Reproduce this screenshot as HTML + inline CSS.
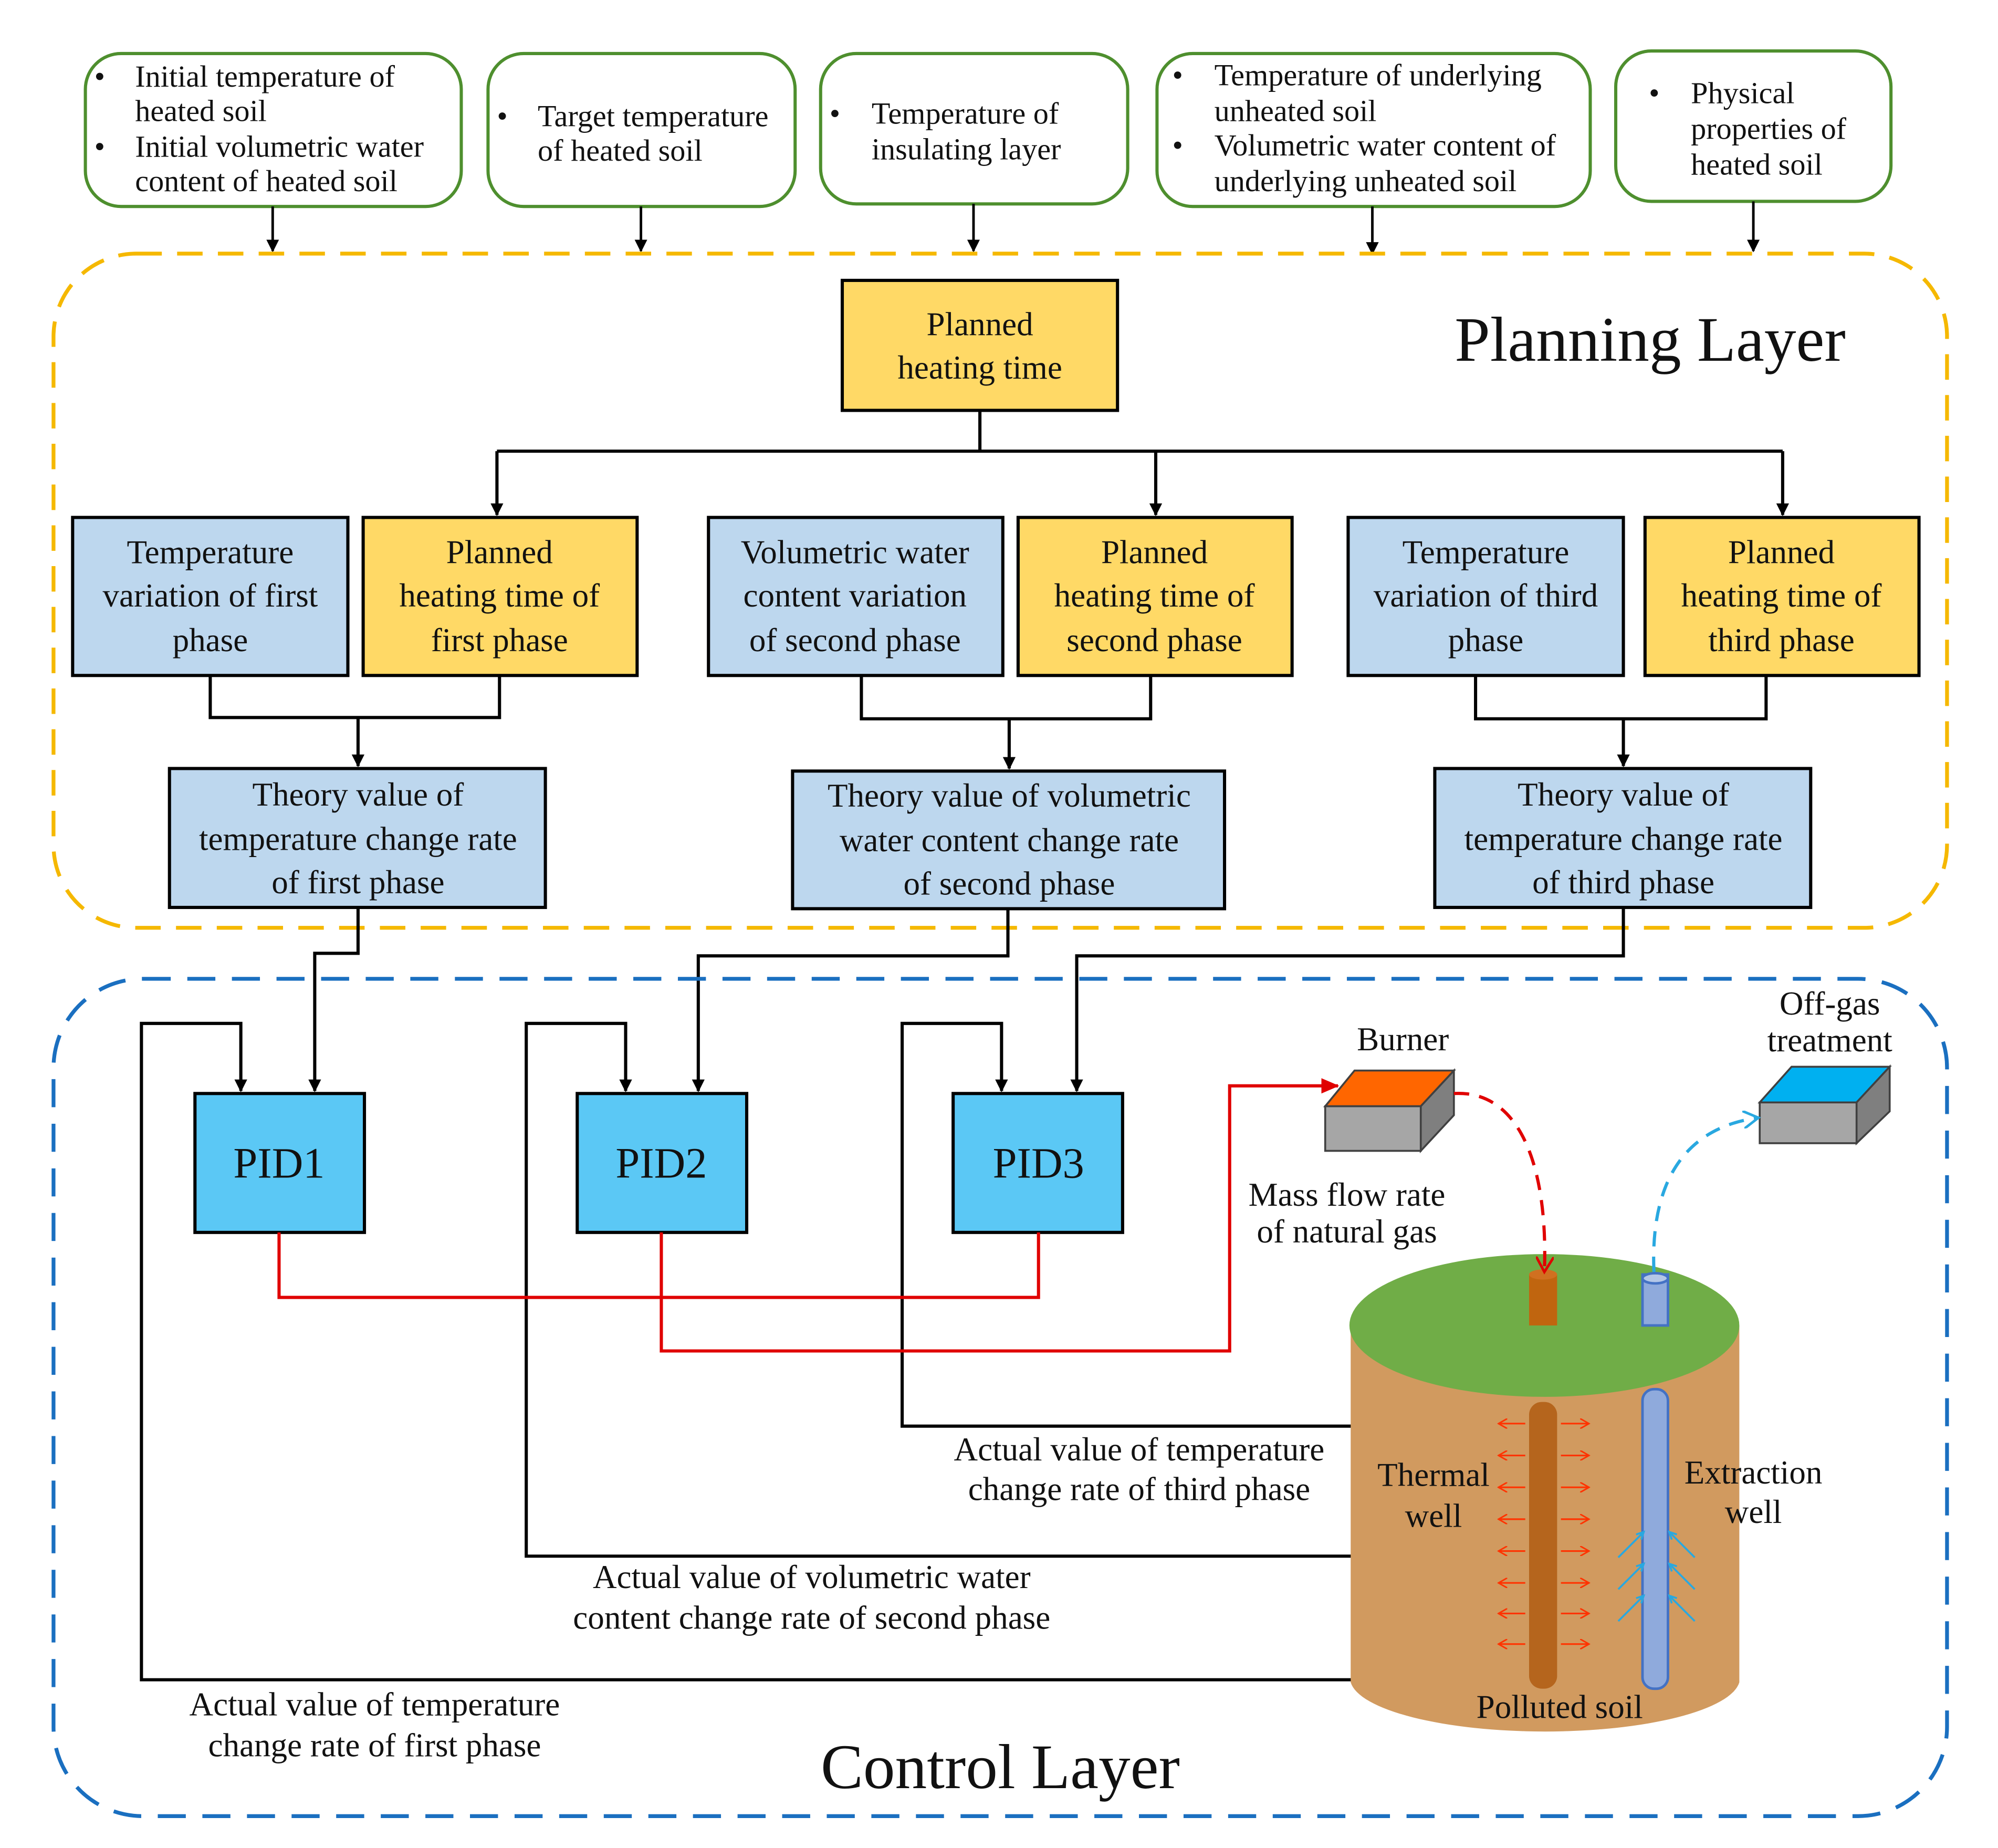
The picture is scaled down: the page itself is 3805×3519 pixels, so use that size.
<!DOCTYPE html>
<html><head><meta charset="utf-8"><style>
html,body{margin:0;padding:0;background:#fff;}
svg{display:block;}
text{font-family:"Liberation Serif",serif;fill:#111;}
</style></head><body>
<svg width="3805" height="3519" viewBox="0 0 1568 1450" preserveAspectRatio="none" xmlns="http://www.w3.org/2000/svg">
<defs>
<marker id="ab" markerWidth="10" markerHeight="10" refX="9" refY="5" orient="auto" markerUnits="userSpaceOnUse"><path d="M0,0 L10,5 L0,10 z" fill="#000"/></marker>
<marker id="ar" markerWidth="14" markerHeight="12" refX="13" refY="6" orient="auto" markerUnits="userSpaceOnUse"><path d="M0,0 L14,6 L0,12 z" fill="#e00000"/></marker>
<marker id="arr" markerWidth="14" markerHeight="14" refX="12" refY="7" orient="auto" markerUnits="userSpaceOnUse"><path d="M0,0 L12,7 L0,14" fill="none" stroke="#e00000" stroke-width="2"/></marker>
<marker id="arb" markerWidth="14" markerHeight="14" refX="12" refY="7" orient="auto" markerUnits="userSpaceOnUse"><path d="M0,0 L12,7 L0,14" fill="none" stroke="#29a8e0" stroke-width="2"/></marker>
<marker id="sr" markerWidth="8" markerHeight="8" refX="7" refY="4" orient="auto" markerUnits="userSpaceOnUse"><path d="M0,0 L7,4 L0,8" fill="none" stroke="#ff3300" stroke-width="1.2"/></marker>
</defs>

<g fill="#fff" stroke="#4e8f2e" stroke-width="2.5">
<rect x="67" y="42" width="295" height="120" rx="28"/>
<rect x="383" y="42" width="241" height="120" rx="28"/>
<rect x="644" y="42" width="241" height="118" rx="28"/>
<rect x="908" y="42" width="340" height="120" rx="28"/>
<rect x="1268" y="40" width="216" height="118" rx="28"/>
</g>
<g font-size="24">
<text x="74" y="60" dominant-baseline="central">•</text>
<text x="106" y="60" dominant-baseline="central">Initial temperature of</text>
<text x="106" y="87" dominant-baseline="central">heated soil</text>
<text x="74" y="115" dominant-baseline="central">•</text>
<text x="106" y="115" dominant-baseline="central">Initial volumetric water</text>
<text x="106" y="142" dominant-baseline="central">content of heated soil</text>
<text x="390" y="91" dominant-baseline="central">•</text>
<text x="422" y="91" dominant-baseline="central">Target temperature</text>
<text x="422" y="118" dominant-baseline="central">of heated soil</text>
<text x="651" y="89" dominant-baseline="central">•</text>
<text x="684" y="89" dominant-baseline="central">Temperature of</text>
<text x="684" y="117" dominant-baseline="central">insulating layer</text>
<text x="920" y="59" dominant-baseline="central">•</text>
<text x="953" y="59" dominant-baseline="central">Temperature of underlying</text>
<text x="953" y="87" dominant-baseline="central">unheated soil</text>
<text x="920" y="114" dominant-baseline="central">•</text>
<text x="953" y="114" dominant-baseline="central">Volumetric water content of</text>
<text x="953" y="142" dominant-baseline="central">underlying unheated soil</text>
<text x="1294" y="73" dominant-baseline="central">•</text>
<text x="1327" y="73" dominant-baseline="central">Physical</text>
<text x="1327" y="101" dominant-baseline="central">properties of</text>
<text x="1327" y="129" dominant-baseline="central">heated soil</text>
</g>
<g stroke="#000" stroke-width="2" marker-end="url(#ab)">
<line x1="214" y1="162" x2="214" y2="197"/>
<line x1="503" y1="162" x2="503" y2="197"/>
<line x1="764" y1="160" x2="764" y2="197"/>
<line x1="1077" y1="162" x2="1077" y2="199"/>
<line x1="1376" y1="158" x2="1376" y2="197"/>
</g>

<rect x="42" y="199" width="1486" height="529" rx="65" fill="none" stroke="#f5b800" stroke-width="3" stroke-dasharray="20,12"/>
<text x="1295" y="283" font-size="50" text-anchor="middle">Planning Layer</text>

<g stroke="#000" stroke-width="2.5">
<rect x="661" y="220" width="216" height="102" fill="#ffd966"/>
<rect x="57" y="406" width="216" height="124" fill="#bdd7ee"/>
<rect x="285" y="406" width="215" height="124" fill="#ffd966"/>
<rect x="556" y="406" width="231" height="124" fill="#bdd7ee"/>
<rect x="799" y="406" width="215" height="124" fill="#ffd966"/>
<rect x="1058" y="406" width="216" height="124" fill="#bdd7ee"/>
<rect x="1291" y="406" width="215" height="124" fill="#ffd966"/>
<rect x="133" y="603" width="295" height="109" fill="#bdd7ee"/>
<rect x="622" y="605" width="339" height="108" fill="#bdd7ee"/>
<rect x="1126" y="603" width="295" height="109" fill="#bdd7ee"/>
</g>
<g font-size="26" text-anchor="middle">
<text x="769" y="263">Planned</text><text x="769" y="297">heating time</text>
<text x="165" y="442">Temperature</text><text x="165" y="476">variation of first</text><text x="165" y="511">phase</text>
<text x="392" y="442">Planned</text><text x="392" y="476">heating time of</text><text x="392" y="511">first phase</text>
<text x="671" y="442">Volumetric water</text><text x="671" y="476">content variation</text><text x="671" y="511">of second phase</text>
<text x="906" y="442">Planned</text><text x="906" y="476">heating time of</text><text x="906" y="511">second phase</text>
<text x="1166" y="442">Temperature</text><text x="1166" y="476">variation of third</text><text x="1166" y="511">phase</text>
<text x="1398" y="442">Planned</text><text x="1398" y="476">heating time of</text><text x="1398" y="511">third phase</text>
<text x="281" y="632">Theory value of</text><text x="281" y="667">temperature change rate</text><text x="281" y="701">of first phase</text>
<text x="792" y="633">Theory value of volumetric</text><text x="792" y="668">water content change rate</text><text x="792" y="702">of second phase</text>
<text x="1274" y="632">Theory value of</text><text x="1274" y="667">temperature change rate</text><text x="1274" y="701">of third phase</text>
</g>
<g stroke="#000" stroke-width="2.5" fill="none">
<polyline points="769,322 769,354"/>
<line x1="390" y1="354" x2="1399" y2="354"/>
<line x1="390" y1="354" x2="390" y2="404" marker-end="url(#ab)"/>
<line x1="907" y1="354" x2="907" y2="404" marker-end="url(#ab)"/>
<line x1="1399" y1="354" x2="1399" y2="404" marker-end="url(#ab)"/>
<polyline points="165,530 165,563 392,563 392,530"/>
<line x1="281" y1="563" x2="281" y2="601" marker-end="url(#ab)"/>
<polyline points="676,530 676,564 903,564 903,530"/>
<line x1="792" y1="564" x2="792" y2="603" marker-end="url(#ab)"/>
<polyline points="1158,530 1158,564 1386,564 1386,530"/>
<line x1="1274" y1="564" x2="1274" y2="601" marker-end="url(#ab)"/>
<polyline points="281,712 281,748 247,748 247,856" marker-end="url(#ab)"/>
<polyline points="791,713 791,750 548,750 548,856" marker-end="url(#ab)"/>
<polyline points="1274,712 1274,750 845,750 845,856" marker-end="url(#ab)"/>
<polyline points="1062,1318 111,1318 111,803 189,803 189,856" marker-end="url(#ab)"/>
<polyline points="1062,1221 413,1221 413,803 491,803 491,856" marker-end="url(#ab)"/>
<polyline points="1062,1119 708,1119 708,803 786,803 786,856" marker-end="url(#ab)"/>
</g>

<rect x="42" y="768" width="1486" height="657" rx="70" fill="none" stroke="#1a6fc0" stroke-width="3" stroke-dasharray="22,13"/>
<text x="785" y="1403" font-size="50" text-anchor="middle">Control Layer</text>

<g stroke="#000" stroke-width="2.5" fill="#5bc8f5">
<rect x="153" y="858" width="133" height="109"/>
<rect x="453" y="858" width="133" height="109"/>
<rect x="748" y="858" width="133" height="109"/>
</g>
<g font-size="34" text-anchor="middle">
<text x="219" y="924">PID1</text><text x="519" y="924">PID2</text><text x="815" y="924">PID3</text>
</g>
<g stroke="#e00000" stroke-width="2.5" fill="none">
<polyline points="219,967 219,1018 815,1018 815,967"/>
<polyline points="519,967 519,1060 965,1060 965,852 1050,852" marker-end="url(#ar)"/>
</g>

<g font-size="26" text-anchor="middle">
<text x="894" y="1146">Actual value of temperature</text><text x="894" y="1177">change rate of third phase</text>
<text x="637" y="1246">Actual value of volumetric water</text><text x="637" y="1278">content change rate of second phase</text>
<text x="294" y="1346">Actual value of temperature</text><text x="294" y="1378">change rate of first phase</text>
<text x="1101" y="824">Burner</text>
<text x="1057" y="946">Mass flow rate</text><text x="1057" y="975">of natural gas</text>
<text x="1436" y="796">Off-gas</text><text x="1436" y="825">treatment</text>
</g>

<g stroke="#404040" stroke-width="1.5">
<polygon points="1040,868 1063,840 1141,840 1115,868" fill="#ff6600"/>
<polygon points="1115,868 1141,840 1141,875 1115,903" fill="#7f7f7f"/>
<rect x="1040" y="868" width="75" height="35" fill="#a6a6a6"/>
<polygon points="1381,865 1406,837 1483,837 1457,865" fill="#00b0f0"/>
<polygon points="1457,865 1483,837 1483,872 1457,897" fill="#7f7f7f"/>
<rect x="1381" y="865" width="76" height="32" fill="#a6a6a6"/>
</g>

<path d="M1060,1040 L1060,1320 A153,42 0 0 0 1365,1320 L1365,1040 z" fill="#d19a5f"/>
<ellipse cx="1212" cy="1040" rx="153" ry="56" fill="#70ad47"/>
<rect x="1200" y="1000" width="22" height="40" fill="#c0650f"/>
<ellipse cx="1211" cy="1000" rx="11" ry="4" fill="#d07020"/>
<rect x="1200" y="1100" width="22" height="225" rx="10" fill="#b5651d"/>
<rect x="1289" y="1000" width="20" height="40" fill="#8faadc" stroke="#4472c4" stroke-width="2"/>
<ellipse cx="1299" cy="1003" rx="10" ry="4" fill="#b4c7e7" stroke="#4472c4" stroke-width="2"/>
<rect x="1289" y="1090" width="20" height="235" rx="9" fill="#8faadc" stroke="#4472c4" stroke-width="2"/>
<g stroke="#ff3300" stroke-width="1.3">
<line x1="1197" y1="1117" x2="1176" y2="1117" marker-end="url(#sr)"/><line x1="1225" y1="1117" x2="1247" y2="1117" marker-end="url(#sr)"/>
<line x1="1197" y1="1142" x2="1176" y2="1142" marker-end="url(#sr)"/><line x1="1225" y1="1142" x2="1247" y2="1142" marker-end="url(#sr)"/>
<line x1="1197" y1="1167" x2="1176" y2="1167" marker-end="url(#sr)"/><line x1="1225" y1="1167" x2="1247" y2="1167" marker-end="url(#sr)"/>
<line x1="1197" y1="1192" x2="1176" y2="1192" marker-end="url(#sr)"/><line x1="1225" y1="1192" x2="1247" y2="1192" marker-end="url(#sr)"/>
<line x1="1197" y1="1217" x2="1176" y2="1217" marker-end="url(#sr)"/><line x1="1225" y1="1217" x2="1247" y2="1217" marker-end="url(#sr)"/>
<line x1="1197" y1="1242" x2="1176" y2="1242" marker-end="url(#sr)"/><line x1="1225" y1="1242" x2="1247" y2="1242" marker-end="url(#sr)"/>
<line x1="1197" y1="1266" x2="1176" y2="1266" marker-end="url(#sr)"/><line x1="1225" y1="1266" x2="1247" y2="1266" marker-end="url(#sr)"/>
<line x1="1197" y1="1290" x2="1176" y2="1290" marker-end="url(#sr)"/><line x1="1225" y1="1290" x2="1247" y2="1290" marker-end="url(#sr)"/>
</g>
<g stroke="#29a8e0" stroke-width="1.5" fill="none">
<path d="M1270,1222 L1290,1202 M1284,1204 L1290,1202 L1288,1208"/>
<path d="M1330,1222 L1310,1202 M1316,1204 L1310,1202 L1312,1208"/>
<path d="M1270,1247 L1290,1227 M1284,1229 L1290,1227 L1288,1233"/>
<path d="M1330,1247 L1310,1227 M1316,1229 L1310,1227 L1312,1233"/>
<path d="M1270,1272 L1290,1252 M1284,1254 L1290,1252 L1288,1258"/>
<path d="M1330,1272 L1310,1252 M1316,1254 L1310,1252 L1312,1258"/>
</g>
<g font-size="26" text-anchor="middle">
<text x="1125" y="1166">Thermal</text><text x="1125" y="1198">well</text>
<text x="1376" y="1164">Extraction</text><text x="1376" y="1195">well</text>
<text x="1224" y="1348">Polluted soil</text>
</g>

<path d="M1141,858 C1195,855 1215,920 1212,998" fill="none" stroke="#e00000" stroke-width="2.5" stroke-dasharray="12,8" marker-end="url(#arr)"/>
<path d="M1298,998 C1295,930 1320,885 1380,877" fill="none" stroke="#29a8e0" stroke-width="2.5" stroke-dasharray="12,8" marker-end="url(#arb)"/>
</svg>
</body></html>
